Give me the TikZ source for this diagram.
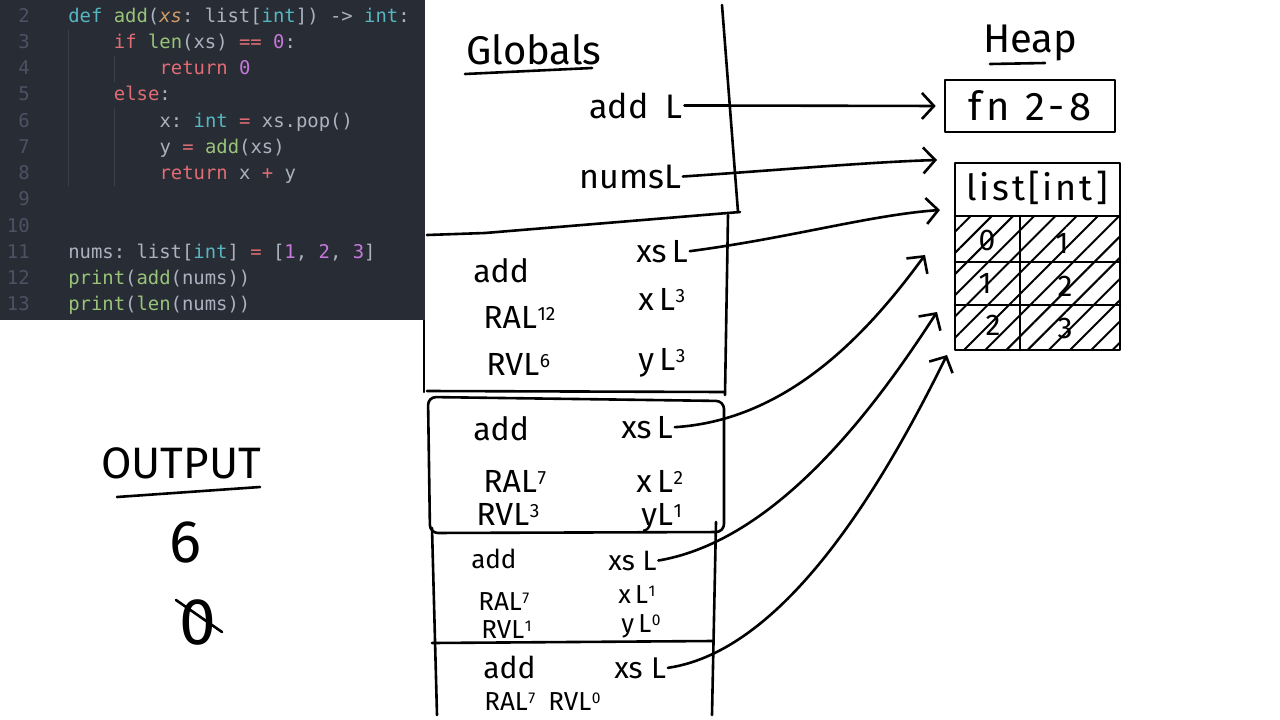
\documentclass[tikz,border=0pt]{standalone}
\usepackage{fontspec}
\usepackage{graphicx}
\usetikzlibrary{arrows.meta,patterns.meta}
\newfontfamily\codefont{DejaVu Sans Mono}
\newfontfamily\hand{Fira Sans}
\definecolor{bgc}{HTML}{282C34}
\definecolor{fgc}{HTML}{ABB2BF}
\definecolor{kwc}{HTML}{E06C75}
\definecolor{fnc}{HTML}{98C379}
\definecolor{tyc}{HTML}{56B6C2}
\definecolor{nmc}{HTML}{C678DD}
\definecolor{pac}{HTML}{D19A66}
\definecolor{lnc}{HTML}{4B5263}
\definecolor{gdc}{HTML}{3B4048}
\newcommand{\slotL}[1]{L\kern.02em\raisebox{.45ex}{\scalebox{.6}{#1}}}
\newcommand{\hs}[1]{\hand\fontsize{#1}{#1}\selectfont}
\begin{document}
\begin{tikzpicture}[x=1pt,y=-1pt,line width=2.6pt,line cap=round,line join=round,
  code/.style={font=\codefont\fontsize{18.9}{20}\selectfont\frenchspacing,inner sep=0pt,anchor=base west,text=fgc},
  lnum/.style={font=\codefont\fontsize{18.9}{20}\selectfont,inner sep=0pt,anchor=base east,text=lnc},
  hw/.style={font=\hs{32},inner sep=0pt,anchor=base west},
  hwc/.style={font=\hs{30},inner sep=0pt,anchor=center},
  arr/.style={-{Straight Barb[length=12pt,width=26pt]}}]
\useasboundingbox (0,0) rectangle (1280,720);
\fill[white] (0,0) rectangle (1280,720);

% ---------- stack frames ----------
\draw (722,5) -- (738,212);
\draw (427,235) -- (485,233) -- (740,212);
\draw (728,215) -- (725,395);
\draw (424,236) -- (424,392);
\draw (427,391) -- (725,392);
\draw[rounded corners=8pt] (428,397) -- (724,401) -- (724,532) -- (430,533) -- cycle;
\draw (432,528) -- (437,715);
\draw (716,522) -- (712,715);
\draw (432,643) -- (713,641);

% ---------- code panel ----------
\fill[bgc] (0,0) rectangle (425,320);
\draw[gdc,line width=1pt] (68.5,30) -- (68.5,186);
\draw[gdc,line width=1pt] (114,56) -- (114,82);
\draw[gdc,line width=1pt] (114,108) -- (114,186);
\foreach \n/\y in {2/22,3/48.25,4/74.5,5/100.75,6/127,7/153.25,8/179.5,9/205.75,10/232,11/258.25,12/284.5,13/310.75}
  \node[lnum] (n\n) at (31,\y) {\n};
\node[code] (c2) at (67,22) {\textcolor{tyc}{def} \textcolor{fnc}{add}(\textcolor{pac}{\itshape xs}: list[\textcolor{tyc}{int}]) -> \textcolor{tyc}{int}:};
\node[code] (c3) at (112.6,48.25) {\textcolor{kwc}{if} \textcolor{fnc}{len}(xs) \textcolor{kwc}{==} \textcolor{nmc}{0}:};
\node[code] (c4) at (158.2,74.5) {\textcolor{kwc}{return} \textcolor{nmc}{0}};
\node[code] (c5) at (112.6,100.75) {\textcolor{kwc}{else}:};
\node[code] (c6) at (158.2,127) {x: \textcolor{tyc}{int} \textcolor{kwc}{=} xs.pop()};
\node[code] (c7) at (158.2,153.25) {y \textcolor{kwc}{=} \textcolor{fnc}{add}(xs)};
\node[code] (c8) at (158.2,179.5) {\textcolor{kwc}{return} x \textcolor{kwc}{+} y};
\node[code] (c11) at (67,258.25) {nums: list[\textcolor{tyc}{int}] \textcolor{kwc}{=} [\textcolor{nmc}{1}, \textcolor{nmc}{2}, \textcolor{nmc}{3}]};
\node[code] (c12) at (67,284.5) {\textcolor{fnc}{print}(\textcolor{fnc}{add}(nums))};
\node[code] (c13) at (67,310.75) {\textcolor{fnc}{print}(\textcolor{fnc}{len}(nums))};

% ---------- globals ----------
\node[hw,font=\hs{40}] (glob) at (465,64) {Globals};
\draw (465,74) -- (592,68);
\node[hw,font=\hs{34}] (gadd) at (588,118) {add\enspace\slotL{}};
\node[hw,font=\hs{34}] (gnums) at (578,188) {nums\slotL{}};

% ---------- frame 1 ----------
\node[hw] (f1add) at (472,282) {add};
\node[hw] (f1xs) at (635,262) {xs\,\slotL{}};
\node[hw] (f1ra) at (482,328) {RA\slotL{12}};
\node[hw] (f1x) at (637,310) {x\,\slotL{3}};
\node[hw] (f1rv) at (485,375) {RV\slotL{6}};
\node[hw] (f1y) at (637,370) {y\,\slotL{3}};

% ---------- frame 2 ----------
\node[hw] (f2add) at (472,440) {add};
\node[hw] (f2xs) at (620,438) {xs\,\slotL{}};
\node[hw] (f2ra) at (482,492) {RA\slotL{7}};
\node[hw] (f2x) at (635,492) {x\,\slotL{2}};
\node[hw] (f2rv) at (475,525) {RV\slotL{3}};
\node[hw] (f2y) at (640,525) {y\slotL{1}};

% ---------- frame 3 ----------
\node[hw,font=\hs{26}] (f3add) at (470,568) {add};
\node[hw,font=\hs{28}] (f3xs) at (607,570) {xs\;\slotL{}};
\node[hw,font=\hs{26}] (f3ra) at (477,610) {RA\slotL{7}};
\node[hw,font=\hs{26}] (f3x) at (617,603) {x\,\slotL{1}};
\node[hw,font=\hs{26}] (f3rv) at (480,638) {RV\slotL{1}};
\node[hw,font=\hs{26}] (f3y) at (620,632) {y\,\slotL{0}};

% ---------- frame 4 ----------
\node[hw,font=\hs{30}] (f4add) at (482,678) {add};
\node[hw,font=\hs{30}] (f4xs) at (613,678) {xs\;\slotL{}};
\node[hw,font=\hs{26}] (f4rr) at (483,710) {RA\slotL{7}\enspace RV\slotL{0}};

% ---------- heap ----------
\node[hw,font=\hs{40}] (heap) at (982,52) {Heap};
\draw (990,64) -- (1045,63);
\node[draw,minimum width=170pt,minimum height=52pt,inner sep=0pt,
  font={\hs{40}\addfontfeatures{LetterSpace=12}}] (fnbox) at (1030,106) {fn 2-8};

\fill[pattern={Lines[angle=45,distance=15pt,line width=2pt]},pattern color=black]
  (955,216) rectangle (1120,350);
\draw (955,163) rectangle (1120,350);
\draw (955,216) -- (1120,216);
\draw (955,262) -- (1120,262);
\draw (955,305) -- (1120,305);
\draw (1020,216) -- (1020,350);
\node[hwc,font={\hs{36}\addfontfeatures{LetterSpace=8}}] (lhead) at (1037,188) {list[int]};
\node[hwc] (c00) at (987,240) {0};
\node[hwc] (c01) at (1062,243) {1};
\node[hwc] (c10) at (985,283) {1};
\node[hwc] (c11v) at (1065,286) {2};
\node[hwc] (c20) at (993,325) {2};
\node[hwc] (c21) at (1065,328) {3};

\coordinate (tn) at (937,160);
\coordinate (t1) at (940,210);
\coordinate (t2) at (925,255);
\coordinate (t3) at (937,312);
\coordinate (t4) at (947,355);

% ---------- connectors ----------
\draw[arr,shorten >=8pt] (gadd.east) -- (fnbox.west);
\draw[arr] (gnums.east) .. controls (780,170) and (870,162) .. (tn);
\draw[arr] (f1xs.east) .. controls (790,238) and (870,215) .. (t1);
\draw[arr] (f2xs.east) .. controls (790,420) and (870,330) .. (t2);
\draw[arr] (f3xs.east) .. controls (780,540) and (880,400) .. (t3);
\draw[arr] (f4xs.east) .. controls (790,650) and (890,470) .. (t4);

% ---------- output ----------
\node[hw,font=\hs{44}] (outt) at (100,478) {OUTPUT};
\draw (117,497) -- (260,487);
\node[hwc,font=\hs{60}] (o6) at (185,542) {6};
\node[hwc,font=\hs{66}] (o0) at (198,622) {0};
\draw (176,600) -- (222,632);
\end{tikzpicture}
\end{document}
